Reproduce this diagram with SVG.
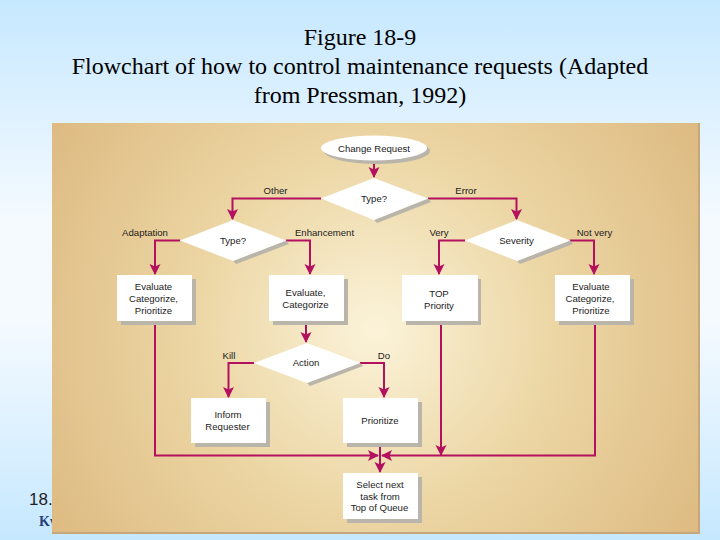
<svg xmlns="http://www.w3.org/2000/svg" width="720" height="540" viewBox="0 0 720 540">
<style>
.t{font-family:"Liberation Serif",serif;font-size:24px;fill:#000;text-anchor:middle}
.l{font-family:"Liberation Sans",sans-serif;font-size:9.6px;fill:#1c1c1c;text-anchor:middle}
.s{fill:#b9b5ab}
.n{fill:#fff}
.c{fill:none;stroke:#b3115f;stroke-width:2}
</style>
<defs>
<linearGradient id="bg" x1="0" y1="0" x2="0" y2="1"><stop offset="0" stop-color="#c6e8ff"/><stop offset="0.4" stop-color="#f4faff"/><stop offset="0.6" stop-color="#f4faff"/><stop offset="1" stop-color="#c6e8ff"/></linearGradient>
<radialGradient id="pn" gradientUnits="userSpaceOnUse" cx="375" cy="330" r="400"><stop offset="0" stop-color="#fbf3d9"/><stop offset="0.45" stop-color="#ecd6a4"/><stop offset="1" stop-color="#dcb87f"/></radialGradient>
<marker id="a" markerUnits="userSpaceOnUse" markerWidth="12" markerHeight="13" refX="10" refY="5.5" orient="auto"><path d="M0 0L11 5.500L0 11L2.500 5.500Z" fill="#b3115f"/></marker>
</defs>
<rect width="720" height="540" fill="url(#bg)"/>
<text class="t" x="360" y="45">Figure 18-9</text>
<text class="t" x="360" y="74">Flowchart of how to control maintenance requests (Adapted</text>
<text class="t" x="360" y="103">from Pressman, 1992)</text>
<text x="29" y="505" font-family="Liberation Sans,sans-serif" font-size="17" fill="#222">18.</text>
<text x="39" y="526" font-family="Liberation Serif,serif" font-weight="bold" font-size="14" fill="#1f3f7a">Kw</text>
<rect x="52" y="123" width="648" height="411" fill="#c6a67c"/>
<rect x="52" y="123" width="646" height="409" fill="url(#pn)"/>
<g id="connectors">
<path class="c" marker-end="url(#a)" d="M374 161V177"/>
<path class="c" marker-end="url(#a)" d="M321 198.500H232.500V219"/>
<path class="c" marker-end="url(#a)" d="M428 198.500H516.500V219"/>
<path class="c" marker-end="url(#a)" d="M180 240.500H155V274"/>
<path class="c" marker-end="url(#a)" d="M286 240.500H310V274"/>
<path class="c" marker-end="url(#a)" d="M465 240.500H439V274"/>
<path class="c" marker-end="url(#a)" d="M570 240.500H594V274"/>
<path class="c" marker-end="url(#a)" d="M306 321V342"/>
<path class="c" marker-end="url(#a)" d="M254 363H228.500V397"/>
<path class="c" marker-end="url(#a)" d="M360 363H384V397"/>
<path class="c" marker-end="url(#a)" d="M155 321V455.500H378"/>
<path class="c" marker-end="url(#a)" d="M595 321V455.500H382"/>
<path class="c" marker-end="url(#a)" d="M441 321V455"/>
<path class="c" marker-end="url(#a)" d="M380 443V472"/>
</g>
<g id="change-request"><ellipse class="s" cx="377" cy="151" rx="53" ry="13"/><ellipse class="n" cx="374" cy="148" rx="53" ry="12.500"/><text class="l" x="374" y="152">Change Request</text></g>
<g id="type-1"><path class="s" d="M428 198.500L431 202L377 223L374 220Z"/><path class="n" d="M321 198.500L374 178L428 198.500L374 220Z"/><text class="l" x="374" y="202">Type?</text></g>
<g id="type-2"><path class="s" d="M286 240.500L289 244L236 264L233 261Z"/><path class="n" d="M180 240.500L233 220L286 240.500L233 261Z"/><text class="l" x="233" y="244">Type?</text></g>
<g id="severity"><path class="s" d="M570 240.500L573 244L520 264L517 261Z"/><path class="n" d="M465 240.500L517 220L570 240.500L517 261Z"/><text class="l" x="516.500" y="244">Severity</text></g>
<g id="action"><path class="s" d="M360 363L363 366L310 386L307 383Z"/><path class="n" d="M254 363L307 343L360 363L307 383Z"/><text class="l" x="306" y="366">Action</text></g>
<g id="eval-1"><rect class="s" x="121" y="279" width="75" height="46"/><rect class="n" x="117" y="275" width="75" height="46"/><text class="l" x="153.500" y="290">Evaluate</text><text class="l" x="153.500" y="302">Categorize,</text><text class="l" x="153.500" y="314">Prioritize</text></g>
<g id="eval-2"><rect class="s" x="273" y="279" width="75" height="46"/><rect class="n" x="269" y="275" width="75" height="46"/><text class="l" x="305.500" y="296">Evaluate,</text><text class="l" x="305.500" y="308">Categorize</text></g>
<g id="top"><rect class="s" x="406" y="279" width="75" height="46"/><rect class="n" x="402" y="275" width="76" height="46"/><text class="l" x="439" y="297">TOP</text><text class="l" x="439" y="309">Priority</text></g>
<g id="eval-4"><rect class="s" x="559" y="279" width="75" height="46"/><rect class="n" x="555" y="275" width="75" height="46"/><text class="l" x="591" y="290">Evaluate</text><text class="l" x="590" y="302">Categorize,</text><text class="l" x="591" y="314">Prioritize</text></g>
<g id="inform"><rect class="s" x="195" y="402" width="75" height="45"/><rect class="n" x="191" y="398" width="75" height="45"/><text class="l" x="228" y="418">Inform</text><text class="l" x="227.500" y="430">Requester</text></g>
<g id="prioritize"><rect class="s" x="347" y="402" width="75" height="45"/><rect class="n" x="343" y="398" width="75" height="45"/><text class="l" x="380" y="424">Prioritize</text></g>
<g id="select"><rect class="s" x="347" y="477" width="75" height="46"/><rect class="n" x="343" y="473" width="75" height="46"/><text class="l" x="380" y="488">Select next</text><text class="l" x="380" y="499.500">task from</text><text class="l" x="379.500" y="511">Top of Queue</text></g>
<g id="labels">
<text class="l" x="275.500" y="194">Other</text><text class="l" x="466" y="194">Error</text>
<text class="l" x="145" y="236">Adaptation</text><text class="l" x="324.500" y="236">Enhancement</text>
<text class="l" x="439" y="236">Very</text><text class="l" x="594.500" y="236">Not very</text>
<text class="l" x="229" y="359">Kill</text><text class="l" x="384" y="359">Do</text>
</g>
</svg>
